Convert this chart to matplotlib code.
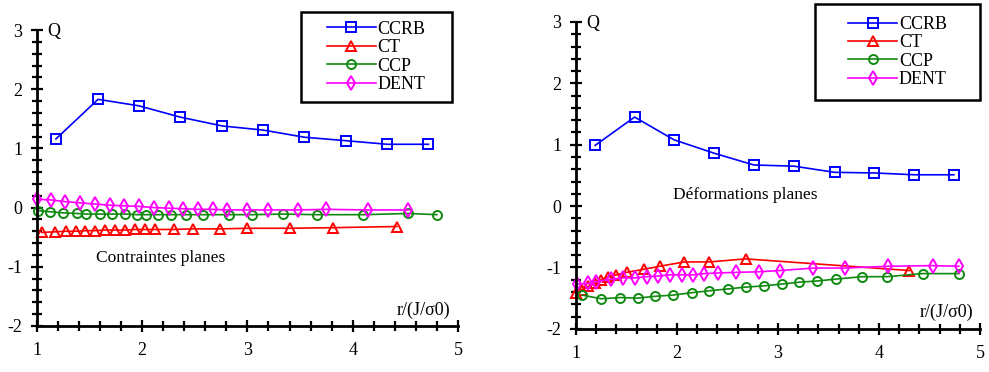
import matplotlib
matplotlib.use("Agg")
import matplotlib.pyplot as plt
from matplotlib.patches import Rectangle
from matplotlib.ticker import MultipleLocator

plt.rcParams['font.family'] = ['Liberation Serif', 'DejaVu Serif']
plt.rcParams['axes.unicode_minus'] = False

# --- Contraintes planes (left) ---
l_ccrb_x = [1.18, 1.58, 1.97, 2.36, 2.76, 3.15, 3.54, 3.94, 4.33, 4.72]
l_ccrb_y = [1.16, 1.83, 1.72, 1.53, 1.38, 1.31, 1.19, 1.13, 1.07, 1.07]

l_ct_x = [1.045, 1.17, 1.28, 1.375, 1.46, 1.55, 1.65, 1.74, 1.84, 1.93, 2.03,
          2.12, 2.30, 2.48, 2.74, 3.00, 3.40, 3.81, 4.42]
l_ct_y = [-0.42, -0.41, -0.40, -0.40, -0.39, -0.39, -0.38, -0.38, -0.38, -0.37,
          -0.37, -0.37, -0.37, -0.36, -0.36, -0.35, -0.35, -0.34, -0.32]

l_ccp_x = [1.01, 1.12, 1.25, 1.38, 1.47, 1.60, 1.71, 1.84, 1.95, 2.04, 2.15,
           2.27, 2.42, 2.58, 2.82, 3.04, 3.34, 3.66, 4.10, 4.53, 4.80]
l_ccp_y = [-0.05, -0.07, -0.09, -0.10, -0.11, -0.11, -0.11, -0.11, -0.12, -0.12,
           -0.12, -0.12, -0.12, -0.12, -0.12, -0.12, -0.11, -0.12, -0.12, -0.10, -0.12]

l_dent_x = [1.0, 1.13, 1.27, 1.41, 1.55, 1.69, 1.83, 1.97, 2.11, 2.25, 2.39,
            2.53, 2.67, 2.81, 3.00, 3.20, 3.48, 3.75, 4.15, 4.53]
l_dent_y = [0.14, 0.13, 0.10, 0.08, 0.06, 0.04, 0.03, 0.02, 0.00, -0.01, -0.02,
            -0.03, -0.03, -0.04, -0.04, -0.04, -0.04, -0.03, -0.04, -0.04]

# --- Deformations planes (right) ---
r_ccrb_x = [1.19, 1.58, 1.97, 2.37, 2.76, 3.16, 3.56, 3.95, 4.35, 4.74]
r_ccrb_y = [0.99, 1.45, 1.08, 0.86, 0.67, 0.65, 0.55, 0.54, 0.51, 0.51]

r_ct_x = [1.0, 1.06, 1.12, 1.19, 1.25, 1.32, 1.40, 1.50, 1.67, 1.83, 2.07, 2.32, 2.68, 4.30]
r_ct_y = [-1.42, -1.36, -1.31, -1.26, -1.20, -1.15, -1.12, -1.08, -1.03, -0.98,
          -0.91, -0.91, -0.86, -1.05]

r_ccp_x = [1.06, 1.25, 1.44, 1.61, 1.78, 1.96, 2.15, 2.32, 2.50, 2.68, 2.86,
           3.04, 3.21, 3.39, 3.57, 3.83, 4.08, 4.43, 4.79]
r_ccp_y = [-1.45, -1.51, -1.49, -1.50, -1.47, -1.45, -1.41, -1.38, -1.35, -1.32,
           -1.30, -1.27, -1.24, -1.22, -1.19, -1.15, -1.15, -1.10, -1.10]

r_dent_x = [1.01, 1.12, 1.20, 1.35, 1.47, 1.58, 1.70, 1.81, 1.93, 2.05, 2.16,
            2.27, 2.41, 2.58, 2.81, 3.02, 3.35, 3.66, 4.09, 4.53, 4.79]
r_dent_y = [-1.27, -1.26, -1.23, -1.19, -1.17, -1.17, -1.15, -1.14, -1.12, -1.12,
            -1.12, -1.10, -1.09, -1.08, -1.07, -1.05, -1.01, -1.01, -0.98, -0.97, -0.98]

names = ['CCRB', 'CT', 'CCP', 'DENT']
colors = ['#0000ff', '#ff0000', '#108a10', '#ff00ff']
markers = ['s', '^', 'o', 'd']
msizes = [7.5, 6.5, 6.5, 7.0]

fig = plt.figure(figsize=(9.89, 3.72), dpi=100)
ax1 = fig.add_axes([0.0374, 0.124, 0.4256, 0.795])
ax2 = fig.add_axes([0.5824, 0.116, 0.4086, 0.825])

panels = [
    (ax1, [(l_ccrb_x, l_ccrb_y), (l_ct_x, l_ct_y), (l_ccp_x, l_ccp_y), (l_dent_x, l_dent_y)],
     'Contraintes planes', (1.56, -0.85), [0.304, 0.726, 0.153, 0.242]),
    (ax2, [(r_ccrb_x, r_ccrb_y), (r_ct_x, r_ct_y), (r_ccp_x, r_ccp_y), (r_dent_x, r_dent_y)],
     'Déformations planes', (1.96, 0.18), [0.824, 0.731, 0.167, 0.258]),
]

for ax, series, note, note_xy, box in panels:
    for (xs, ys), name, c, m, ms in zip(series, names, colors, markers, msizes):
        ax.plot(xs, ys, color=c, lw=1.2, marker=m, ms=ms, mfc='none', mec=c,
                mew=1.4, label=name, clip_on=False)
    ax.set_xlim(1, 5)
    ax.set_ylim(-2, 3)
    for s in ['top', 'right']:
        ax.spines[s].set_visible(False)
    for s in ['left', 'bottom']:
        ax.spines[s].set_linewidth(2)
    ax.xaxis.set_major_locator(MultipleLocator(1))
    ax.xaxis.set_minor_locator(MultipleLocator(0.2))
    ax.yaxis.set_major_locator(MultipleLocator(1))
    ax.yaxis.set_minor_locator(MultipleLocator(0.2))
    ax.tick_params(which='both', direction='inout', width=1.6, labelsize=13)
    ax.tick_params(which='major', length=9)
    ax.tick_params(which='minor', length=7)
    ax.tick_params(axis='x', pad=7)
    ax.tick_params(axis='y', pad=6)
    ax.patch.set_visible(False)

    ax.text(1.1, 2.97, 'Q', fontsize=13, ha='left', va='center')
    ax.text(4.93, -1.73, r'r/(J/σ0)', fontsize=13, ha='right', va='center')
    ax.text(note_xy[0], note_xy[1], note, fontsize=12.5, ha='left', va='center')

    rect = Rectangle((box[0], box[1]), box[2], box[3], transform=fig.transFigure,
                     fill=False, edgecolor='black', lw=1.8)
    fig.patches.append(rect)
    ax.legend(loc='center', bbox_to_anchor=(box[0] + box[2] / 2, box[1] + box[3] / 2),
              bbox_transform=fig.transFigure, frameon=False, fontsize=13,
              handlelength=2.7, handletextpad=0.1, labelspacing=0.08,
              borderpad=0.2)

fig.savefig('out.png', dpi=100)
